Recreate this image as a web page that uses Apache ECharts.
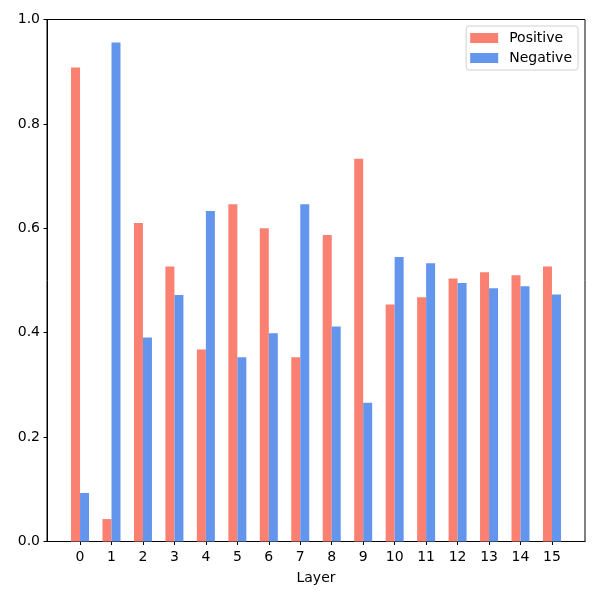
<!DOCTYPE html>
<html>
<head>
<meta charset="utf-8">
<script src="https://cdn.jsdelivr.net/npm/echarts@6/dist/echarts.min.js"></script>
<style>html,body{margin:0;padding:0;background:#fff}#c{width:600px;height:600px}</style>
</head>
<body>
<div id="c"></div>
<script>
const layers = [0,1,2,3,4,5,6,7,8,9,10,11,12,13,14,15];
const positive = [0.908,0.043,0.610,0.527,0.368,0.646,0.600,0.353,0.587,0.733,0.454,0.468,0.504,0.516,0.510,0.527];
const negative = [0.093,0.956,0.391,0.472,0.633,0.353,0.399,0.646,0.412,0.266,0.545,0.533,0.495,0.485,0.489,0.473];
const yTicks = [0,0.2,0.4,0.6,0.8,1.0];

const font = 'DejaVu Sans';
const chart = echarts.init(document.getElementById('c'), null, {renderer:'canvas'});
chart.setOption({
  animation: false,
  backgroundColor: '#fff',
  textStyle: {fontFamily: font},
  grid: {left: 47, right: 15, top: 19.5, bottom: 58.5, show: true, borderColor: '#000', borderWidth: 1, backgroundColor: 'transparent'},
  legend: {
    orient: 'vertical', right: 22, top: 26,
    itemWidth: 28, itemHeight: 10, itemGap: 6,
    padding: [5, 6, 5, 4],
    borderColor: '#d0d0d0', borderWidth: 1, borderRadius: 3,
    backgroundColor: 'rgba(255,255,255,0.8)',
    textStyle: {fontFamily: font, fontSize: 14, color: '#000', padding: [0, 0, 0, 6]},
    data: [{name:'Positive', icon:'rect'}, {name:'Negative', icon:'rect'}]
  },
  xAxis: {
    type: 'value', min: -1.05, max: 16.05,
    name: 'Layer', nameLocation: 'middle', nameGap: 30,
    nameTextStyle: {fontFamily: font, fontSize: 14, color: '#000'},
    axisLine: {show: true, onZero: false, lineStyle: {color: '#000', width: 1}},
    axisTick: {show: true, length: 3.5, lineStyle: {color: '#000'}, customValues: layers},
    axisLabel: {color: '#000', fontSize: 14, fontFamily: font, margin: 9, customValues: layers, formatter: v => String(v)},
    splitLine: {show: false}
  },
  yAxis: {
    type: 'value', min: 0, max: 1, interval: 0.2,
    axisLine: {show: true, onZero: false, lineStyle: {color: '#000', width: 1}},
    axisTick: {show: true, length: 3.5, lineStyle: {color: '#000'}},
    axisLabel: {color: '#000', fontSize: 14, fontFamily: font, margin: 7, formatter: v => v.toFixed(1)},
    splitLine: {show: false}
  },
  series: [
    {name: 'Positive', type: 'bar', barWidth: 9, barGap: '0%', itemStyle: {color: '#FA8072'},
     data: layers.map((l, i) => [l, positive[i]])},
    {name: 'Negative', type: 'bar', barWidth: 9, barGap: '0%', itemStyle: {color: '#6495ED'},
     data: layers.map((l, i) => [l, negative[i]])}
  ]
});
</script>
</body>
</html>
